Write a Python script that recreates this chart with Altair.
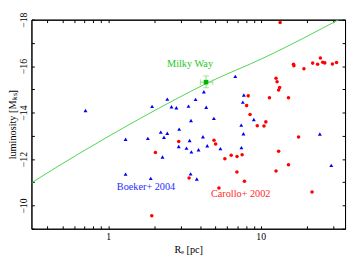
import altair as alt
import pandas as pd

# Boeker+ 2004 (blue triangles): effective radius [pc], luminosity [mag]
boeker_re = [0.71, 1.94, 2.44, 2.60, 2.80, 3.36, 3.74, 4.39, 3.49, 2.21,
             2.44, 2.92, 2.32, 1.30, 1.82, 3.42, 4.18, 4.46, 2.90, 3.26,
             3.51, 3.91, 2.27, 1.30, 1.90, 3.47, 3.81, 6.81, 4.24, 7.75,
             7.63, 4.93, 9.01, 7.45, 7.70, 5.44, 7.47, 24.4, 29.0]
boeker_mag = [-14.09, -14.27, -14.58, -14.25, -14.21, -14.28, -14.57, -14.23, -13.66, -13.16,
              -13.11, -13.29, -12.94, -12.85, -12.89, -12.80, -12.96, -12.57, -12.54, -12.47,
              -12.31, -12.40, -12.09, -11.35, -11.17, -11.36, -11.14, -15.56, -14.90, -14.76,
              -14.45, -13.75, -13.70, -13.46, -13.09, -12.45, -12.49, -13.08, -11.73]

# Carollo+ 2002 (red circles)
carollo_re = [2.90, 2.04, 3.39, 1.93, 4.94, 5.06, 5.82, 6.40, 6.99, 7.55,
              6.98, 7.82, 5.32, 13.1, 12.6, 15.2, 21.7, 17.7, 12.6, 12.8,
              13.3, 13.1, 8.28, 11.4, 15.2, 8.08, 8.51, 10.8, 9.49, 10.5,
              13.4, 16.4, 16.5, 19.2, 21.9, 23.6, 24.6, 25.5, 26.3, 29.5, 31.4]
carollo_mag = [-12.76, -12.28, -11.18, -9.56, -12.81, -12.65, -12.01, -12.16, -12.11, -12.19,
               -11.44, -11.04, -10.75, -12.34, -11.49, -11.75, -10.58, -12.95, -15.48, -15.33,
               -15.08, -14.97, -14.72, -14.64, -14.64, -14.30, -13.92, -13.60, -13.43, -13.42,
               -17.88, -16.08, -16.02, -15.89, -16.13, -16.08, -16.35, -16.17, -16.14, -16.09, -16.16]

# green relation curve
line_re = [0.314, 0.426, 0.954, 2.78, 4.36, 10.74, 33.1]
line_mag = [-10.97, -11.52, -12.89, -14.58, -15.24, -16.39, -18.03]

# Milky Way
mw_re = [4.38]
mw_mag = [-15.31]
mw_re_lo = [4.02]
mw_re_hi = [4.85]
mw_mag_lo = [-15.58]
mw_mag_hi = [-15.07]

# annotations
label_text = ["Milky Way", "Boeker+ 2004", "Carollo+ 2002"]
label_re = [3.44, 1.77, 7.39]
label_mag = [-16.11, -10.78, -10.49]
label_color = ["#22c822", "#2a2aff", "#ff2a2a"]

x_ticks = [0.4, 0.5, 0.6, 0.7, 0.8, 0.9, 1, 2, 3, 4, 5, 6, 7, 8, 9, 10, 20, 30]
y_ticks = [-18, -17, -16, -15, -14, -13, -12, -11, -10, -9]

FONT = "Liberation Serif"

xs = alt.Scale(type="log", domain=[0.314, 35.7], nice=False)
ys = alt.Scale(domain=[-18, -9], reverse=True, nice=False, zero=False)

ax_bottom = alt.Axis(orient="bottom", values=x_ticks, title="Rₑ [pc]",
                     labelExpr="datum.value == 1 ? '1' : datum.value == 10 ? '10' : ''",
                     tickSize={"expr": "-3"}, labelPadding=6, labelOverlap=False,
                     labelFlush=False, titlePadding=3, grid=False)
ax_left = alt.Axis(orient="left", values=y_ticks, title="luminosity [Mₖₛ]",
                   labelExpr="datum.value % 2 == 0 ? format(datum.value, 'd') : ''",
                   labelAngle=270, labelAlign="center", labelBaseline="bottom",
                   tickSize={"expr": "-3"}, labelPadding=6, labelOverlap=False,
                   labelFlush=True, titlePadding=1, grid=False)
ax_top = alt.Axis(orient="top", values=x_ticks, labels=False, title=None,
                  tickSize={"expr": "-3"}, grid=False)
ax_right = alt.Axis(orient="right", values=y_ticks, labels=False, title=None,
                    tickSize={"expr": "-3"}, grid=False)

line_df = pd.DataFrame({"re": line_re, "mag": line_mag})
boeker_df = pd.DataFrame({"re": boeker_re, "mag": boeker_mag})
carollo_df = pd.DataFrame({"re": carollo_re, "mag": carollo_mag})
mw_df = pd.DataFrame({"re": mw_re, "mag": mw_mag, "re_lo": mw_re_lo, "re_hi": mw_re_hi,
                      "mag_lo": mw_mag_lo, "mag_hi": mw_mag_hi})
lab_df = pd.DataFrame({"text": label_text, "re": label_re, "mag": label_mag, "color": label_color})

line = alt.Chart(line_df).mark_line(color="#4fd34f", strokeWidth=1, clip=True, interpolate="monotone").encode(
    x=alt.X("re:Q", scale=xs, axis=ax_bottom),
    y=alt.Y("mag:Q", scale=ys, axis=ax_left),
)

boeker = alt.Chart(boeker_df).mark_point(shape="triangle-up", filled=True, size=16,
                                         color="#0000f0", opacity=1).encode(
    x=alt.X("re:Q", scale=xs, axis=ax_top),
    y=alt.Y("mag:Q", scale=ys, axis=ax_right),
)

carollo = alt.Chart(carollo_df).mark_circle(size=13, color="#ff0000", opacity=1).encode(
    x=alt.X("re:Q", scale=xs, axis=None),
    y=alt.Y("mag:Q", scale=ys, axis=None),
)

mw_h = alt.Chart(mw_df).mark_errorbar(ticks={"size": 6, "color": "#7fdc7f"}, color="#7fdc7f").encode(
    x=alt.X("re_lo:Q", scale=xs, axis=None),
    x2="re_hi:Q",
    y=alt.Y("mag:Q", scale=ys, axis=None),
)
mw_v = alt.Chart(mw_df).mark_errorbar(ticks={"size": 6, "color": "#7fdc7f"}, color="#7fdc7f").encode(
    y=alt.Y("mag_lo:Q", scale=ys, axis=None),
    y2="mag_hi:Q",
    x=alt.X("re:Q", scale=xs, axis=None),
)
mw_pt = alt.Chart(mw_df).mark_square(size=22, color="#00b400", opacity=1).encode(
    x=alt.X("re:Q", scale=xs, axis=None),
    y=alt.Y("mag:Q", scale=ys, axis=None),
)

labels = alt.Chart(lab_df).mark_text(font=FONT, fontSize=10.5, align="center", baseline="middle").encode(
    x=alt.X("re:Q", scale=xs, axis=None),
    y=alt.Y("mag:Q", scale=ys, axis=None),
    text="text:N",
    color=alt.Color("color:N", scale=None),
)

chart = alt.layer(line, mw_h, mw_v, mw_pt, carollo, boeker, labels).properties(
    width=347, height=250,
    autosize=alt.AutoSizeParams(type="fit", contains="padding"),
    padding={"left": 0, "right": 1, "top": 1, "bottom": 0},
    background="white",
).configure_view(stroke="black", strokeWidth=1).configure_axis(
    domainColor="black", tickColor="black", labelColor="black", titleColor="black",
    labelFont=FONT, titleFont=FONT, labelFontSize=10, titleFontSize=10.5,
    titleFontWeight="normal", domainWidth=1, tickWidth=1,
)

chart.save("out.html", embed_options={"renderer": "svg", "actions": False})
